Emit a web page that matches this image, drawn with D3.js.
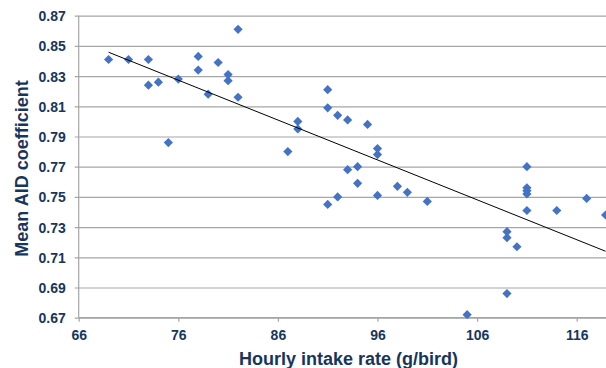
<!DOCTYPE html>
<html>
<head>
<meta charset="utf-8">
<script src="https://cdn.jsdelivr.net/npm/d3@7"></script>
<style>
  html, body { margin: 0; padding: 0; background: #fff; }
  svg { display: block; }
</style>
</head>
<body>
<div id="chart"></div>
<script>
// ---- data ----
const intakeRate = [69, 71, 73, 73, 74, 75, 76, 78, 78, 79, 80, 81, 81, 82, 82,
  87, 88, 88, 91, 91, 91, 92, 92, 93, 93, 94, 94, 95, 96, 96, 96, 98, 99, 101,
  105, 109, 109, 109, 110, 111, 111, 111, 111, 111, 114, 117, 118.9];
const aidCoefficient = [0.841, 0.841, 0.841, 0.824, 0.826, 0.786, 0.828, 0.843, 0.834, 0.818, 0.839, 0.831, 0.827, 0.861, 0.816,
  0.780, 0.800, 0.795, 0.821, 0.809, 0.745, 0.804, 0.750, 0.801, 0.768, 0.770, 0.759, 0.798, 0.782, 0.778, 0.751, 0.757, 0.753, 0.747,
  0.672, 0.727, 0.723, 0.686, 0.717, 0.770, 0.756, 0.754, 0.752, 0.741, 0.741, 0.749, 0.738];
const trendX = [69, 118.9];
const trendY = [0.8458, 0.714];
const xTicks = [66, 76, 86, 96, 106, 116];
const yTicks = [0.67, 0.69, 0.71, 0.73, 0.75, 0.77, 0.79, 0.81, 0.83, 0.85, 0.87];
const xTitle = "Hourly intake rate (g/bird)";
const yTitle = "Mean AID coefficient";

// ---- layout ----
const W = 606, H = 368;
const padLeft = 78.7, padTop = 15.7, axisY = 317.7;
const textColor = "#17365D";
const markColor = "#4472C4";
const gridColor = "#A6A6A6";
const font = "'Liberation Sans', Arial, sans-serif";

const x = d3.scaleLinear().domain([66, 116]).range([padLeft, 576.7]);
const y = d3.scaleLinear().domain([0.67, 0.87]).range([axisY, padTop]);

const svg = d3.select("#chart").append("svg")
  .attr("width", W).attr("height", H)
  .style("font-family", font);

svg.append("defs").append("clipPath").attr("id", "plotclip")
  .append("rect").attr("x", padLeft).attr("y", 0).attr("width", W - padLeft).attr("height", axisY + 1);

// horizontal gridlines + y axis
const yAxis = d3.axisLeft(y).tickValues(yTicks).tickSize(-(W - padLeft)).tickSizeOuter(0)
  .tickFormat(d3.format(".2f")).tickPadding(9);
const gy = svg.append("g").attr("transform", `translate(${padLeft},0)`).call(yAxis);
gy.select(".domain").remove();
gy.selectAll(".tick line").attr("stroke", gridColor).attr("stroke-width", 1.2).attr("x1", -4);
gy.selectAll(".tick text").attr("x", -13).attr("fill", textColor)
  .style("font-size", "14px").style("font-weight", "bold").attr("dy", "0.35em");

// vertical axis line
svg.append("line").attr("x1", padLeft).attr("x2", padLeft).attr("y1", padTop).attr("y2", axisY)
  .attr("stroke", gridColor).attr("stroke-width", 1.2);

// x axis
const xAxis = d3.axisBottom(x).tickValues(xTicks).tickSize(4).tickSizeOuter(0).tickPadding(8);
const gx = svg.append("g").attr("transform", `translate(0,${axisY})`).call(xAxis);
gx.select(".domain").attr("d", `M${padLeft},0H${W}`).attr("stroke", gridColor).attr("stroke-width", 1.2);
gx.selectAll(".tick line").attr("stroke", gridColor).attr("stroke-width", 1.2);
gx.selectAll(".tick text").attr("fill", textColor)
  .style("font-size", "14px").style("font-weight", "bold");

// markers
const plot = svg.append("g").attr("clip-path", "url(#plotclip)");
const pts = intakeRate.map((v, i) => ({ x: v, y: aidCoefficient[i] }));
const r = 4.6;
plot.selectAll("path.pt").data(pts).enter().append("path")
  .attr("class", "pt")
  .attr("d", d => {
    const cx = x(d.x), cy = y(d.y);
    return `M${cx},${cy - r}L${cx + r},${cy}L${cx},${cy + r}L${cx - r},${cy}Z`;
  })
  .attr("fill", markColor);

// trendline
const line = d3.line().x(d => x(d[0])).y(d => y(d[1]));
plot.append("path").datum(trendX.map((v, i) => [v, trendY[i]]))
  .attr("d", line).attr("fill", "none").attr("stroke", "#000").attr("stroke-width", 1);

// titles
svg.append("text").attr("x", (237 + 460) / 2).attr("y", 365)
  .attr("text-anchor", "middle").attr("fill", textColor)
  .style("font-size", "18px").style("font-weight", "bold").text(xTitle);
svg.append("text").attr("transform", `translate(28,168.5) rotate(-90)`)
  .attr("text-anchor", "middle").attr("fill", textColor)
  .style("font-size", "18px").style("font-weight", "bold").text(yTitle);
</script>
</body>
</html>
